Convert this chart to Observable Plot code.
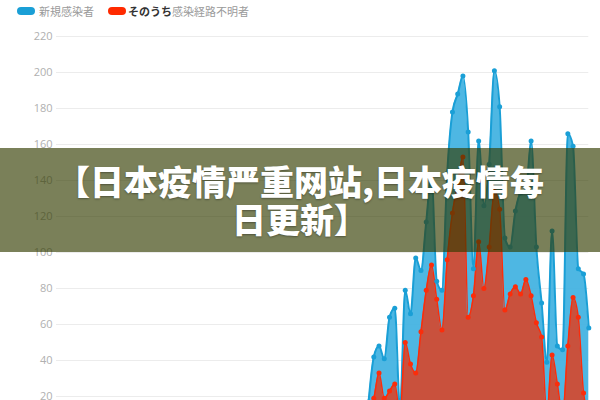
<!DOCTYPE html>
<html>
<head>
<meta charset="utf-8">
<script src="https://cdn.jsdelivr.net/npm/d3@7"></script>
<script src="https://cdn.jsdelivr.net/npm/@observablehq/plot@0.6"></script>
<style>
html,body{margin:0;padding:0;width:600px;height:400px;overflow:hidden;background:#fff;}
#wrap{position:relative;width:600px;height:400px;overflow:hidden;}
.sw{position:absolute;top:7px;width:18px;height:8px;border-radius:4px;}
.lt{position:absolute;top:3px;font-family:"Noto Sans CJK JP",sans-serif;font-size:11px;line-height:16px;color:#9a9a9a;white-space:nowrap;}
#chart{position:absolute;left:0;top:20px;}
#banner{position:absolute;left:0;top:148px;width:600px;height:104px;background:rgba(51,60,0,0.65);
  display:flex;align-items:center;justify-content:center;text-align:center;
  font-family:"Noto Sans CJK SC",sans-serif;font-weight:900;font-size:34px;line-height:38px;color:#fff;
  text-shadow:0 1px 2px rgba(0,0,0,0.35);}
</style>
</head>
<body>
<div id="wrap">
  <div class="sw" style="left:17px;background:#1a9fd6"></div>
  <div class="lt" style="left:39px">新規感染者</div>
  <div class="sw" style="left:108px;background:#ff2a00"></div>
  <div class="lt" style="left:128px"><span style="color:#333;font-weight:700">そのうち</span>感染経路不明者</div>
  <div id="chart"></div>
  <div id="banner"><div>【日本疫情严重网站,日本疫情每<br>日更新】</div></div>
</div>
<script>
const dates = [
  "2020-03-24","2020-03-25","2020-03-26","2020-03-27","2020-03-28","2020-03-29","2020-03-30","2020-03-31",
  "2020-04-01","2020-04-02","2020-04-03","2020-04-04","2020-04-05","2020-04-06","2020-04-07","2020-04-08",
  "2020-04-09","2020-04-10","2020-04-11","2020-04-12","2020-04-13","2020-04-14","2020-04-15","2020-04-16",
  "2020-04-17","2020-04-18","2020-04-19","2020-04-20","2020-04-21","2020-04-22","2020-04-23","2020-04-24",
  "2020-04-25","2020-04-26","2020-04-27","2020-04-28","2020-04-29","2020-04-30","2020-05-01","2020-05-02",
  "2020-05-03","2020-05-04","2020-05-05"
];
const newCases = [
  17, 42, 48, 41, 64, 69, 13, 79, 66, 97, 90, 117, 143, 84, 79, 144,
  178, 188, 198, 167, 91, 162, 126, 149, 201, 181, 108, 103, 123, 133, 134, 162,
  103, 72, 39, 112, 48, 46, 166, 159, 91, 88, 58
];
const unknownRoute = [
  10, 19, 33, 19, 23, 27, 10, 50, 38, 33, 56, 79, 93, 74, 57, 96,
  122, 138, 153, 64, 76, 106, 80, 103, 134, 124, 68, 77, 81, 77, 85, 76,
  61, 53, 10, 43, 27, 10, 48, 75, 64, 22, 10
];
const yTicks = [20, 40, 60, 80, 100, 120, 140, 160, 180, 200, 220];

const rows = dates.map((d, i) => ({date: new Date(d + "T00:00:00Z"), total: newCases[i], unknown: unknownRoute[i]}));

const blueFill = "#45b3e1", blueLine = "#1a9fd6";
const redFill = "#cd4d38", redLine = "#fb2d0b";

const chart = Plot.plot({
  width: 600,
  height: 440,
  marginLeft: 56,
  marginRight: 11.7,
  marginTop: 16,
  marginBottom: 28,
  x: {type: "utc", domain: [new Date("2020-01-24T12:00:00Z"), new Date("2020-05-05T00:00:00Z")], axis: null},
  y: {domain: [0, 220]},
  style: {fontFamily: "'Open Sans', sans-serif", fontSize: "11px", color: "#aaa", background: "transparent"},
  marks: [
    Plot.gridY(yTicks, {stroke: "#ececec", strokeOpacity: 1}),
    Plot.axisY(yTicks, {tickSize: 0, tickPadding: 4, fill: "#b0b0b0", fontSize: 11, label: null}),
    Plot.areaY(rows, {x: "date", y: "total", fill: blueFill, fillOpacity: 0.95, curve: "monotone-x"}),
    Plot.lineY(rows, {x: "date", y: "total", stroke: blueLine, strokeWidth: 2, curve: "monotone-x"}),
    Plot.areaY(rows, {x: "date", y: "unknown", fill: redFill, fillOpacity: 0.97, curve: "monotone-x"}),
    Plot.lineY(rows, {x: "date", y: "unknown", stroke: redLine, strokeWidth: 1.5, curve: "monotone-x"}),
    Plot.dot(rows, {x: "date", y: "total", r: 2.5, fill: blueLine}),
    Plot.dot(rows, {x: "date", y: "unknown", r: 2.5, fill: redLine})
  ]
});
document.getElementById("chart").appendChild(chart);
</script>
</body>
</html>
